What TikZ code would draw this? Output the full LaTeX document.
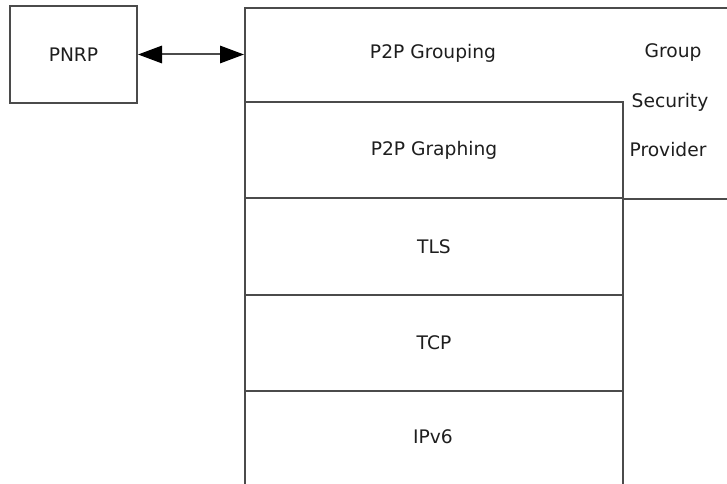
\documentclass[tikz,border=0pt]{standalone}
\usepackage{fontspec}
\setmainfont{DejaVu Sans}
\usetikzlibrary{arrows.meta}
\definecolor{linegray}{RGB}{75,75,75}
\definecolor{textgray}{RGB}{30,30,30}
\begin{document}
\begin{tikzpicture}[x=0.75pt,y=-0.75pt,
  box/.style={draw=linegray, line width=1.5pt, rectangle, inner sep=0pt, anchor=north west},
  lbl/.style={font=\fontsize{14}{16}\selectfont, text=textgray, inner sep=0pt},
  conn/.style={draw=linegray, line width=1.5pt,
    {Triangle[length=18pt,width=13pt,fill=black,color=black]}-{Triangle[length=18pt,width=13pt,fill=black,color=black]}}
]
\useasboundingbox[fill=white] (0,0) rectangle (727,484);
% PNRP
\node[box, lbl, minimum width=95.25pt, minimum height=72.75pt] (pnrp) at (9,5) {PNRP};
% outer group box (extends past the page)
\node[box, minimum width=375pt, minimum height=367.5pt] (outer) at (244,7) {};
% layers
\node[box, minimum width=283.5pt, minimum height=72pt] (graphing) at (244,101) {};
\node[box, minimum width=283.5pt, minimum height=72.75pt] (tls) at (244,197) {};
\node[box, minimum width=283.5pt, minimum height=72pt] (tcp) at (244,294) {};
\node[box, minimum width=283.5pt, minimum height=90pt] (ipv6) at (244,390) {};
% line separating security provider
\draw[draw=linegray, line width=1.5pt] (graphing.south east) -- (outer.east |- graphing.south);
% labels
\node[lbl] (lgrouping) at (433,53) {P2P Grouping};
\node[lbl] at (graphing.center) {P2P Graphing};
\node[lbl] at (tls.center) {TLS};
\node[lbl] at (tcp.center) {TCP};
\node[lbl] at (433,437) {IPv6};
\node[lbl] (g1) at (673,53) {Group};
\node[lbl] (g2) at (670,102) {Security};
\node[lbl] (g3) at (668,150) {Provider};
% connector
\draw[conn] (pnrp.east) -- (outer.west |- pnrp.east);
\end{tikzpicture}
\end{document}
